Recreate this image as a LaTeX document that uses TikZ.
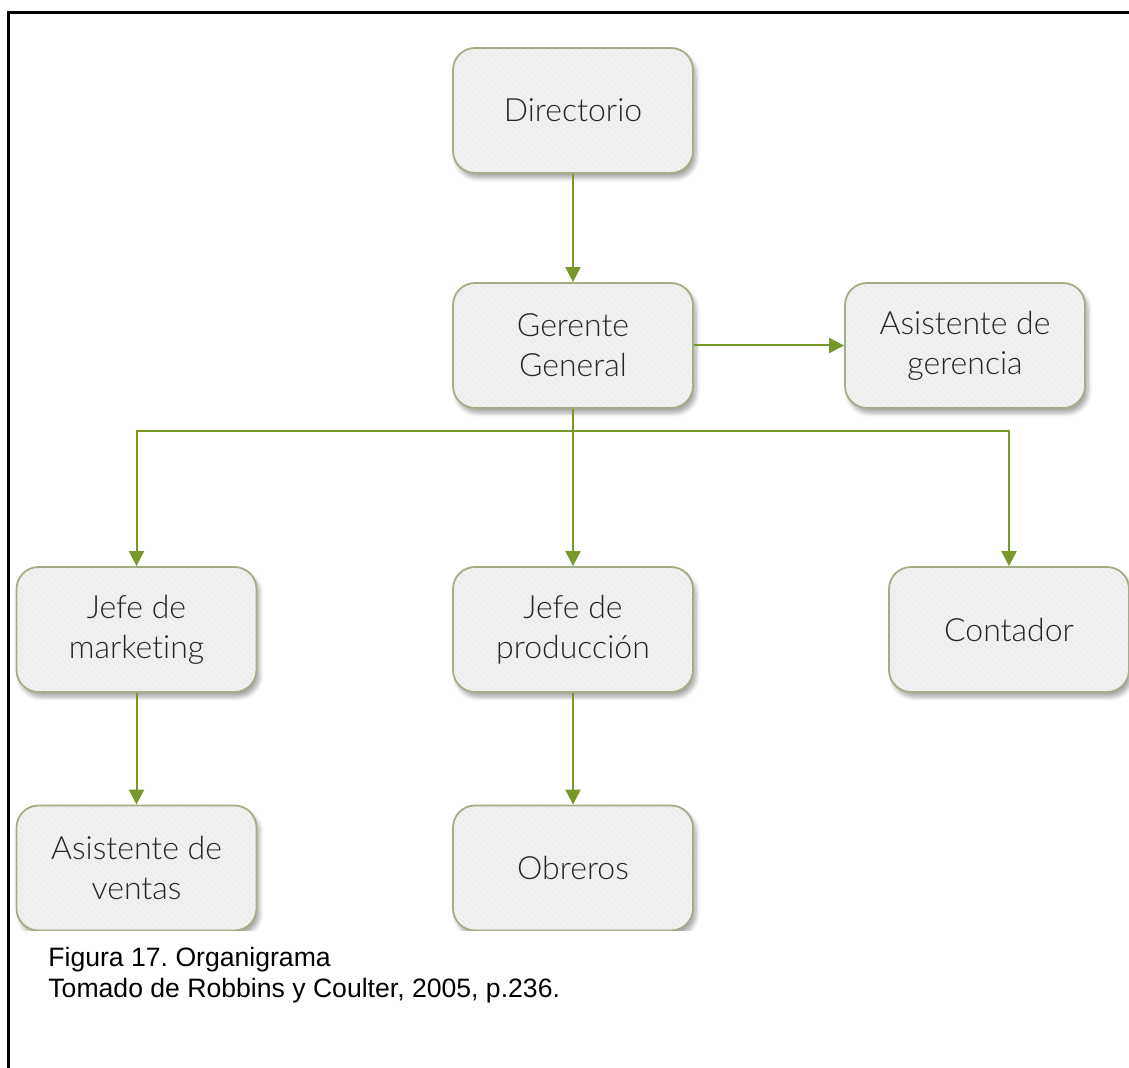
\documentclass[tikz,border=0pt]{standalone}
\usepackage{fontspec}
\setmainfont{Liberation Sans}
\newfontfamily\boxfont{Lato}[UprightFont=* Light, Ligatures=NoCommon]
\usetikzlibrary{arrows.meta,patterns,shadows.blur}

\definecolor{boxfill}{HTML}{EDEDED}
\definecolor{stripe}{HTML}{F6F6F6}
\definecolor{boxedge}{HTML}{A3AE85}
\definecolor{linkgreen}{HTML}{78982A}

\tikzset{
  orgbox/.style={
    rectangle, rounded corners=11pt,
    minimum width=120pt, minimum height=62.5pt,
    blur shadow={shadow xshift=1.5pt, shadow yshift=-2.5pt, shadow opacity=35, shadow blur steps=6},
    preaction={fill=boxfill},
    preaction={pattern=north west lines, pattern color=stripe},
    draw=boxedge, line width=0.9pt,
    align=center, text=black!85,
    font=\boxfont\fontsize{16}{20}\selectfont
  },
  link/.style={draw=linkgreen, line width=1pt,
    -{Triangle[length=7.5pt,width=7.5pt]}},
  plainlink/.style={draw=linkgreen, line width=1pt},
  caption/.style={anchor=base west, inner sep=0pt,
    font=\fontsize{13.3}{15}\selectfont}
}

\begin{document}
\frenchspacing
\begin{tikzpicture}[x=0.5pt,y=-0.5pt]
  \useasboundingbox (0,0) rectangle (1129,1068);

  % boxes of the chart
  \node[orgbox] (dir)  at (573,110.5)  {Directorio};
  \node[orgbox] (gg)   at (573,345.5)  {Gerente\\General};
  \node[orgbox] (ag)   at (965,345.5)  {Asistente de\\gerencia};
  \node[orgbox] (mkt)  at (136.5,629.5) {Jefe de\\marketing};
  \node[orgbox] (prod) at (573,629.5)  {Jefe de\\producción};
  \node[orgbox] (cont) at (1009,629.5) {Contador};
  \node[orgbox] (av)   at (136.5,868)  {Asistente de\\ventas};
  \node[orgbox] (obr)  at (573,868)    {Obreros};

  % connectors
  \coordinate (bus) at (573,431);
  \draw[link] (dir) -- (gg);
  \draw[link] (gg) -- (ag);
  \draw[plainlink] (gg.south) -- (bus);
  \draw[link] (bus) -| (mkt.north);
  \draw[link] (bus) -- (prod.north);
  \draw[link] (bus) -| (cont.north);
  \draw[link] (mkt) -- (av);
  \draw[link] (prod) -- (obr);

  % page area below the chart
  \fill[white] (27,931) rectangle (1129,1068);

  % caption
  \node[caption] (cap1) at (48,966) {Figura 17. Organigrama};
  \node[caption] (cap2) at (48,997) {Tomado de Robbins y Coulter, 2005, p.236.};

  % frame
  \draw[black, line width=1.5pt] (8,1068) -- (8,13) -- (1129,13);
\end{tikzpicture}
\end{document}
